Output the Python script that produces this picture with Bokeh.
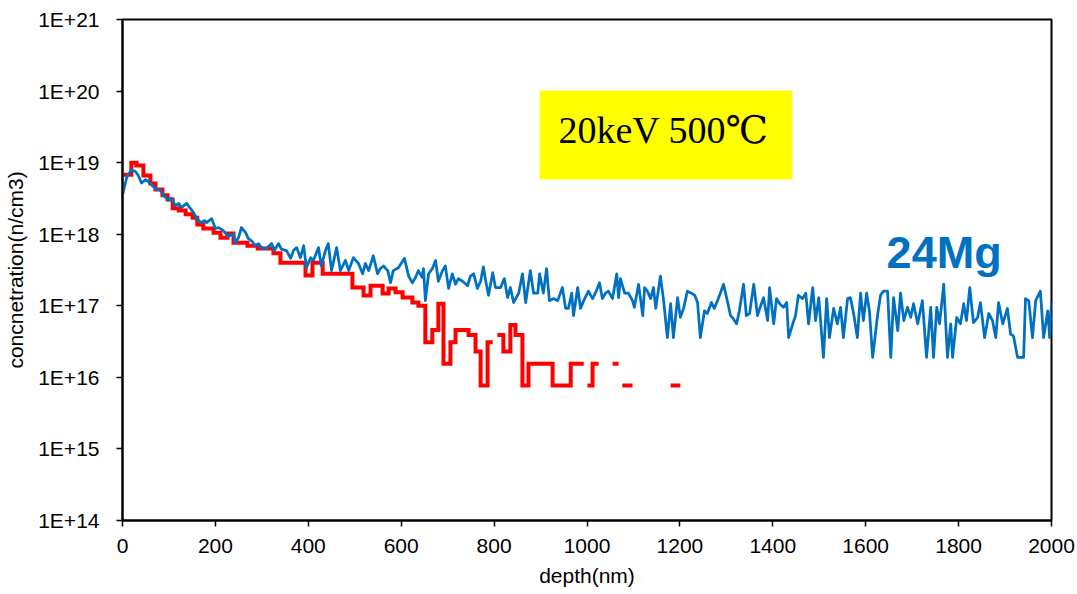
import numpy as np
from bokeh.plotting import figure
from bokeh.models import Range1d, FixedTicker, CustomJSTickFormatter, BoxAnnotation, Label
from bokeh.embed import file_html
from bokeh.resources import INLINE

# ---------------- data ----------------
blue_depth = [
    0, 9, 19, 28, 34, 41, 50, 60, 71, 82,
    88, 99, 105, 114, 121, 127, 138, 146, 153, 159,
    168, 177, 181, 192, 200, 207, 217, 228, 239, 243,
    250, 256, 265, 271, 278, 286, 293, 299, 310, 321,
    327, 336, 342, 353, 362, 368, 375, 383, 390, 396,
    405, 411, 422, 428, 437, 443, 450, 461, 469, 480,
    487, 497, 508, 517, 523, 530, 540, 549, 555, 562,
    571, 577, 583, 594, 607, 616, 624, 631, 637, 645,
    648, 652, 659, 667, 674, 680, 689, 695, 702, 710,
    717, 723, 732, 743, 749, 756, 764, 771, 777, 782,
    788, 797, 803, 814, 822, 829, 835, 842, 853, 861,
    868, 878, 885, 894, 898, 906, 913, 919, 928, 937,
    947, 954, 960, 967, 971, 980, 986, 993, 1003, 1012,
    1018, 1027, 1033, 1040, 1046, 1055, 1064, 1068, 1072, 1081,
    1089, 1098, 1102, 1111, 1120, 1124, 1130, 1137, 1143, 1148,
    1158, 1165, 1173, 1180, 1186, 1195, 1201, 1208, 1216, 1225,
    1232, 1238, 1244, 1253, 1259, 1268, 1274, 1281, 1287, 1294,
    1302, 1309, 1315, 1322, 1328, 1337, 1343, 1350, 1359, 1367,
    1374, 1380, 1389, 1393, 1402, 1408, 1415, 1423, 1430, 1434,
    1443, 1449, 1455, 1464, 1471, 1477, 1486, 1492, 1499, 1509,
    1516, 1522, 1531, 1539, 1546, 1552, 1561, 1567, 1574, 1582,
    1589, 1595, 1602, 1608, 1615, 1626, 1632, 1638, 1647, 1654,
    1660, 1669, 1675, 1682, 1690, 1697, 1703, 1712, 1722, 1731,
    1740, 1746, 1753, 1759, 1768, 1776, 1783, 1787, 1796, 1804,
    1811, 1817, 1824, 1832, 1841, 1847, 1856, 1865, 1873, 1880,
    1886, 1895, 1905, 1912, 1918, 1927, 1940, 1944, 1951, 1959,
    1966, 1976, 1983, 1992, 1996, 2000,
]
blue_conc = [
    3.5e18, 6.2e18, 7.9e18, 7.5e18, 6.6e18, 5.2e18, 5.8e18, 5.1e18, 4.3e18, 4.1e18,
    3.5e18, 3.0e18, 3.2e18, 2.5e18, 2.7e18, 2.35e18, 2.7e18, 2.3e18, 2.0e18, 1.7e18,
    1.45e18, 1.55e18, 1.45e18, 1.65e18, 1.2e18, 1.24e18, 1.12e18, 9.3e17, 1.02e18, 7.6e17,
    9.0e17, 1.24e18, 1.05e18, 8.7e17, 8.1e17, 6.9e17, 7.4e17, 6.5e17, 6.3e17, 7.4e17,
    5.9e17, 7.4e17, 6.2e17, 5.9e17, 4.6e17, 5.9e17, 6.5e17, 4.7e17, 6.9e17, 3.4e17,
    4.7e17, 4.3e17, 6.5e17, 3.6e17, 5.9e17, 7.4e17, 3.1e17, 6.5e17, 3.1e17, 4.3e17,
    3.1e17, 4.7e17, 3.9e17, 2.8e17, 3.9e17, 3.1e17, 5.0e17, 2.8e17, 3.3e17, 3.6e17,
    3.1e17, 2.1e17, 3.1e17, 3.4e17, 4.6e17, 2.6e17, 2.1e17, 2.5e17, 3.1e17, 2.5e17,
    3.3e17, 1.18e17, 2.8e17, 3.3e17, 4.3e17, 2.2e17, 3.1e17, 3.6e17, 1.75e17, 2.8e17,
    2.0e17, 2.4e17, 2.2e17, 1.9e17, 2.6e17, 2.8e17, 1.75e17, 2.2e17, 3.5e17, 2.2e17,
    1.4e17, 2.9e17, 1.8e17, 1.8e17, 2.4e17, 1.3e17, 1.8e17, 1.11e17, 1.5e17, 2.8e17,
    1.11e17, 3.1e17, 1.5e17, 1.5e17, 2.8e17, 1.5e17, 3.3e17, 1.18e17, 1.26e17, 1.18e17,
    1.8e17, 9.2e16, 9.2e16, 1.5e17, 7.3e16, 1.8e17, 9.2e16, 1.18e17, 1.6e17, 1.26e17,
    1.5e17, 2.1e17, 1.26e17, 1.5e17, 1.6e17, 1.26e17, 2.8e17, 1.3e17, 2.4e17, 1.5e17,
    1.5e17, 1.18e17, 9.5e16, 2.0e17, 7.3e16, 1.8e17, 1.6e17, 1.26e17, 1.8e17, 9.2e16,
    2.6e17, 1.18e17, 3.6e16, 1.07e17, 3.6e16, 1.3e17, 6.9e16, 9.2e16, 1.6e17, 1.5e17,
    1.4e17, 1.11e17, 3.6e16, 8.5e16, 7.8e16, 1.11e17, 9.2e16, 1.18e17, 1.5e17, 2.0e17,
    1.18e17, 7.3e16, 6.6e16, 5.6e16, 8.5e16, 2.0e17, 7.3e16, 7.8e16, 2.0e17, 7.3e16,
    1.0e17, 1.3e17, 6.2e16, 1.8e17, 5.6e16, 1.26e17, 1.07e17, 9.5e16, 1.11e17, 3.6e16,
    5.6e16, 7.3e16, 1.4e17, 1.26e17, 1.5e17, 5.6e16, 1.8e17, 6.2e16, 1.3e17, 1.9e16,
    1.26e17, 3.6e16, 9.2e16, 5.6e16, 9.5e16, 3.6e16, 1.26e17, 1.3e17, 7.8e16, 3.6e16,
    1.5e17, 6.2e16, 1.5e17, 8.5e16, 1.9e16, 7.8e16, 1.4e17, 1.6e17, 1.6e17, 1.9e16,
    1.3e17, 4.5e16, 1.5e17, 6.2e16, 9.5e16, 6.9e16, 1.07e17, 5.6e16, 1.18e17, 1.9e16,
    9.5e16, 1.9e16, 9.5e16, 5.6e16, 2.0e17, 1.9e16, 5.6e16, 1.9e16, 6.9e16, 5.6e16,
    1.07e17, 6.2e16, 1.8e17, 5.8e16, 6.9e16, 1.11e17, 3.6e16, 7.8e16, 6.2e16, 3.6e16,
    1.11e17, 5.6e16, 9.2e16, 4.0e16, 3.8e16, 1.9e16, 1.9e16, 1.26e17, 1.18e17, 3.6e16,
    1.18e17, 1.6e17, 3.6e16, 8.5e16, 3.6e16, 1.11e17,
]

# red: stepped profile, one entry per step (depth from, depth to, concentration)
red_start = [0, 19, 30, 45, 60, 71, 86, 97, 108, 121,
             136, 151, 161, 174, 196, 211, 226, 239, 269, 291,
             325, 340, 394, 409, 431, 495, 519, 534, 560, 573,
             588, 603, 624, 637, 652, 667, 680, 691, 706, 717,
             745, 760, 771, 786, 807, 820, 835, 846, 861, 874,
             926, 965, 1001, 1012, 1055, 1076, 1180]
red_end = [19, 30, 45, 60, 71, 86, 97, 108, 121, 136,
           151, 161, 174, 196, 211, 226, 239, 269, 291, 325,
           340, 394, 409, 431, 495, 519, 534, 560, 573, 588,
           603, 624, 637, 652, 667, 680, 691, 706, 717, 745,
           760, 771, 786, 797, 820, 835, 846, 861, 874, 926,
           965, 993, 1012, 1025, 1068, 1098, 1201]
red_conc = [6.8e18, 1.0e19, 9.1e18, 6.6e18, 5.1e18, 4.2e18, 3.5e18, 3.05e18, 2.3e18, 2.14e18,
            1.9e18, 1.7e18, 1.37e18, 1.2e18, 1.05e18, 8.9e17, 1.02e18, 7.6e17, 6.9e17, 6.3e17,
            5.4e17, 4.0e17, 2.65e17, 4.0e17, 2.8e17, 1.8e17, 1.39e17, 1.9e17, 1.48e17, 1.74e17,
            1.54e17, 1.31e17, 1.11e17, 1.0e17, 3.1e16, 4.6e16, 1.07e17, 1.55e16, 3.1e16, 4.6e16,
            3.9e16, 2.3e16, 7.7e15, 3.1e16, 3.9e16, 2.3e16, 5.4e16, 3.9e16, 7.7e15, 1.55e16,
            7.7e15, 1.55e16, 7.7e15, 1.55e16, 1.55e16, 7.7e15, 7.7e15]

x_ticks = [0, 200, 400, 600, 800, 1000, 1200, 1400, 1600, 1800, 2000]
y_ticks = [1e14, 1e15, 1e16, 1e17, 1e18, 1e19, 1e20, 1e21]

# ---------------- figure ----------------
p = figure(width=1077, height=594, y_axis_type="log",
           x_range=Range1d(0, 2000), y_range=Range1d(1e14, 1e21),
           output_backend="svg", toolbar_location=None,
           min_border_left=122, min_border_right=26,
           min_border_top=19, min_border_bottom=74,
           background_fill_color="white", border_fill_color="white")

p.xgrid.visible = False
p.ygrid.visible = False
p.outline_line_color = "black"
p.outline_line_width = 2
p.outline_line_alpha = 1.0

# annotation box
p.add_layout(BoxAnnotation(left=898, right=1442, bottom=5.8e18, top=1.02e20,
                           fill_color="#FFFF00", fill_alpha=1.0, line_color=None,
                           level="underlay"))

# red stepped line (gaps where there are no counts)
rx, ry = [], []
prev_end = None
for s, e, c in zip(red_start, red_end, red_conc):
    if prev_end is not None and s != prev_end:
        rx.append(np.nan)
        ry.append(np.nan)
    rx += [s, e]
    ry += [c, c]
    prev_end = e
p.line(np.array(rx, dtype=float), np.array(ry, dtype=float),
       line_color="#FF0000", line_width=4, line_join="miter")

# blue line
p.line(np.array(blue_depth, dtype=float), np.array(blue_conc, dtype=float),
       line_color="#0070C0", line_width=2.75, line_join="round")

p.add_layout(Label(x=1165, y=2.9e19, text="20keV 500\u2103",
                   text_font="Liberation Serif, DejaVu Serif, serif",
                   text_font_size="38px", text_color="black",
                   text_align="center", text_baseline="alphabetic"))
p.add_layout(Label(x=1645, y=5.5e17, text="24Mg",
                   text_font="Liberation Sans", text_font_size="45px",
                   text_font_style="bold", text_color="#0070C0",
                   text_align="left", text_baseline="alphabetic"))

# axes
p.xaxis.ticker = FixedTicker(ticks=x_ticks)
p.yaxis.ticker = FixedTicker(ticks=y_ticks)
p.yaxis.formatter = CustomJSTickFormatter(code="return '1E+' + Math.round(Math.log10(tick));")
p.xaxis.axis_label = "depth(nm)"
p.yaxis.axis_label = "concnetration(n/cm3)"
for ax in (p.xaxis[0], p.yaxis[0]):
    ax.axis_line_color = "black"
    ax.axis_line_width = 2
    ax.major_tick_line_color = "black"
    ax.major_tick_line_width = 1.5
    ax.major_tick_out = 6
    ax.major_tick_in = 0
    ax.minor_tick_line_color = None
    ax.major_label_text_font = "Liberation Sans"
    ax.major_label_text_font_size = "21px"
    ax.major_label_text_color = "black"
    ax.axis_label_text_font = "Liberation Sans"
    ax.axis_label_text_font_size = "21px"
    ax.axis_label_text_font_style = "normal"
    ax.axis_label_text_color = "black"
p.yaxis.major_label_standoff = 17
p.xaxis.major_label_standoff = 12
p.yaxis.axis_label_standoff = 8
p.xaxis.axis_label_standoff = 8

open("out.html", "w").write(file_html(p, INLINE))
